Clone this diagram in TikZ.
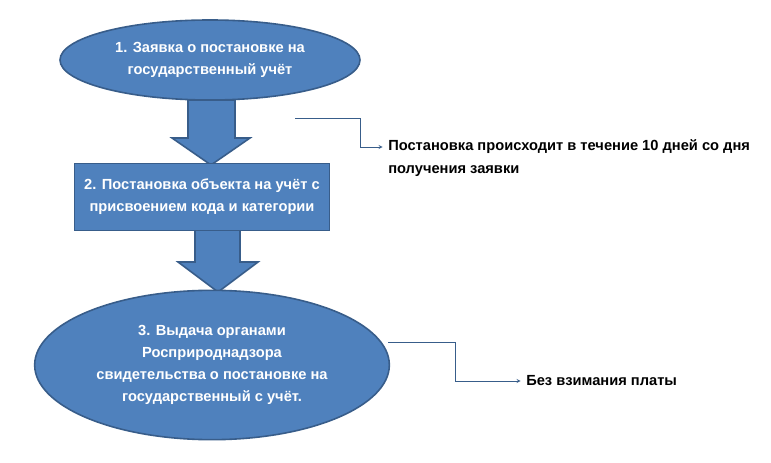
\documentclass[tikz,border=0pt]{standalone}
\usepackage{fontspec}
\setmainfont{Liberation Sans}
\usetikzlibrary{shapes.geometric}
\definecolor{boxfill}{HTML}{4F81BD}
\definecolor{boxline}{HTML}{385D8A}
\begin{document}
\begin{tikzpicture}[
    x=0.75pt, y=-0.75pt,
    stage/.style={draw=boxline, line width=1.2pt, fill=boxfill, text=white,
        font=\bfseries\fontsize{11}{16.5}\selectfont, align=center, inner sep=0pt},
    blockarrow/.style={draw=boxline, line width=1.2pt, fill=boxfill},
    note/.style={font=\bfseries\fontsize{11}{17}\selectfont, align=left, anchor=west, inner sep=0pt},
    link/.style={draw=boxline, thin, ->, >=stealth}
]
\useasboundingbox (0,0) rectangle (771,463);

% Down arrows
\filldraw[blockarrow] (188,100) -- (235,100) -- (235,138) -- (250,138) -- (211,165)
    -- (172,138) -- (188,138) -- cycle;
\filldraw[blockarrow] (195,228) -- (240,228) -- (240,262) -- (258,262) -- (218,292)
    -- (178,262) -- (195,262) -- cycle;

% Stages
\node[stage, ellipse, minimum width=225pt, minimum height=60pt] (req) at (210,60)
    {1. Заявка о постановке на\\государственный учёт};
\node[stage, rectangle, minimum width=191pt, minimum height=50pt] (reg) at (202,197)
    {2. Постановка объекта на учёт с\\присвоением кода и категории};
\node[stage, ellipse, minimum width=266pt, minimum height=112pt] (cert) at (212,365)
    {3. Выдача органами\\Росприроднадзора\\свидетельства о постановке на\\государственный с учёт.};

% Notes
\coordinate (s1) at (295,118);
\coordinate (s2) at (388,342);
\node[note] (term) at (388,158) {Постановка происходит в течение 10 дней со дня\\получения заявки};
\node[note] (free) at (526,381) {Без взимания платы};
\draw[link] (s1) -- (360,118) |- ([xshift=-4pt]term.west |- 0,147);
\draw[link] (s2) -- (455,342) |- ([xshift=-4pt]free.west);

\end{tikzpicture}
\end{document}
